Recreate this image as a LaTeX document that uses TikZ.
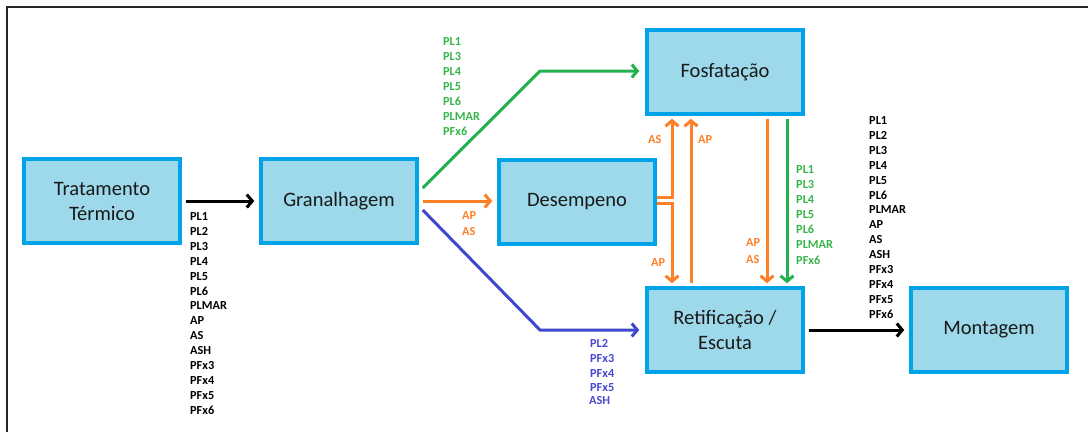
\documentclass[tikz,border=0pt]{standalone}
\usepackage{fontspec}
\setmainfont{Carlito}
\usetikzlibrary{arrows.meta}

\definecolor{boxfill}{HTML}{9DD9EA}
\definecolor{boxline}{HTML}{00A2E8}
\definecolor{flowgreen}{HTML}{22B14C}
\definecolor{floworange}{HTML}{FF7F27}
\definecolor{flowblue}{HTML}{3F48CC}
\definecolor{txtgreen}{HTML}{36B54A}
\definecolor{txtblue}{HTML}{4747D6}

\tikzset{
  proc/.style={draw=boxline, fill=boxfill, line width=3.5pt, inner sep=0pt,
    minimum width=156pt, minimum height=84pt, align=center,
    text=black!90, font=\fontsize{20.5}{25}\selectfont},
  flow/.style={line width=3pt, -{Straight Barb[length=5.5pt,width=13pt]}},
  lab/.style={inner sep=0pt, anchor=west, font=\fontsize{12.3}{13}\selectfont\bfseries},
}

\begin{document}
\begin{tikzpicture}[x=1pt,y=-1pt]
\useasboundingbox (0,0) rectangle (1088,432);

% outer frame (left and top edges)
\draw[line width=2.5pt, black!85] (7,432) -- (7,7) -- (1088,7);

% process boxes
\node[proc] (tt) at (102,201) {Tratamento\\Térmico};
\node[proc] (gr) at (339,201) {Granalhagem};
\node[proc] (de) at (577,202) {Desempeno};
\node[proc] (fo) at (725,72) {Fosfatação};
\node[proc] (re) at (725,330) {Retificação /\\Escuta};
\node[proc] (mo) at (989,330) {Montagem};

% helper points
\coordinate (gbend) at (540,71);
\coordinate (bbend) at (540,330);
\coordinate (ou) at (672,197);
\coordinate (ol) at (672,203);
\coordinate (xa) at (691,0);
\coordinate (xb) at (767,0);
\coordinate (xc) at (787,0);

% connectors
\draw[flow, black, shorten <=4pt, shorten >=5pt] (tt.east) -- (gr.west);
\draw[flow, flowgreen, shorten >=6pt] ([shift={(4,-13)}]gr.east) -- (gbend) -- (fo.west |- gbend);
\draw[flow, floworange, shorten <=4pt, shorten >=5pt] (gr.east) -- (gr.east -| de.west);
\draw[flow, flowblue, shorten >=6pt] ([shift={(4,9)}]gr.east) -- (bbend) -- (re.west);
\draw[flow, floworange, shorten >=3pt] (de.east |- ou) -- (ou) -- (ou |- fo.south);
\draw[flow, floworange, shorten >=3pt] (de.east |- ol) -- (ol) -- (ol |- re.north);
\draw[flow, floworange, shorten <=3pt, shorten >=3pt] (xa |- re.north) -- (xa |- fo.south);
\draw[flow, floworange, shorten <=3pt, shorten >=3pt] (xb |- fo.south) -- (xb |- re.north);
\draw[flow, flowgreen, shorten <=3pt, shorten >=3pt] (xc |- fo.south) -- (xc |- re.north);
\draw[flow, black, shorten <=4pt, shorten >=5pt] (re.east) -- (mo.west);

% labels
\foreach \t [count=\i] in {PL1,PL2,PL3,PL4,PL5,PL6,PLMAR,AP,AS,ASH,PFx3,PFx4,PFx5,PFx6}
  \node[lab, black] (la\i) at (190,{216.3+14.94*(\i-1)}) {\t};
\foreach \t [count=\i] in {PL1,PL3,PL4,PL5,PL6,PLMAR,PFx6}
  \node[lab, txtgreen] (lb\i) at (443,{41.2+15*(\i-1)}) {\t};
\node[lab, floworange] (lc1) at (462,215.3) {AP};
\node[lab, floworange] (lc2) at (462,231.5) {AS};
\node[lab, floworange] (ld1) at (648,140) {AS};
\node[lab, floworange] (ld2) at (698,140) {AP};
\node[lab, floworange] (ld3) at (651,263) {AP};
\node[lab, floworange] (ld4) at (746,243) {AP};
\node[lab, floworange] (ld5) at (746,260) {AS};
\foreach \t [count=\i] in {PL1,PL3,PL4,PL5,PL6,PLMAR,PFx6}
  \node[lab, txtgreen] (le\i) at (796,{169.5+15.08*(\i-1)}) {\t};
\node[lab, txtblue] (lf1) at (590,343.3) {PL2};
\node[lab, txtblue] (lf2) at (590,358.3) {PFx3};
\node[lab, txtblue] (lf3) at (590,373.3) {PFx4};
\node[lab, txtblue] (lf4) at (590,388) {PFx5};
\node[lab, txtblue] (lf5) at (589,401) {ASH};
\foreach \t [count=\i] in {PL1,PL2,PL3,PL4,PL5,PL6,PLMAR,AP,AS,ASH,PFx3,PFx4,PFx5,PFx6}
  \node[lab, black] (lg\i) at (869,{120.3+14.94*(\i-1)}) {\t};
\end{tikzpicture}
\end{document}
